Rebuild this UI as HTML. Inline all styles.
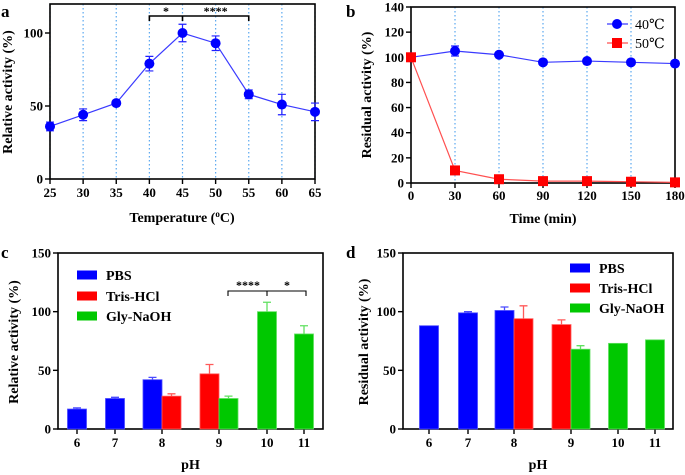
<!DOCTYPE html>
<html><head><meta charset="utf-8"><style>
html,body{margin:0;padding:0;background:#fff}
svg{display:block;font-family:"Liberation Serif","DejaVu Serif","Times New Roman",serif;font-weight:bold}
svg text{font-family:"Liberation Serif","DejaVu Serif","Times New Roman",serif}
svg text.sans{font-family:"Liberation Sans","DejaVu Sans",sans-serif;font-weight:normal}
</style></head><body>
<svg id="fig" width="685" height="475" viewBox="0 0 685 475" xmlns="http://www.w3.org/2000/svg"></svg>
<script>
// Panel a data
const tempCats=[25,30,35,40,45,50,55,60,65];
const tempVals=[36,44,52,79,100,93,58,51,46];
const tempErr=[3,4,1,5,6,5,3,7,6];
const tempYTicks=[0,50,100];
// Panel b data
const timeCats=[0,30,60,90,120,150,180];
const res40=[100,105,102,96,97,96,95];
const res40Err=[1,4,1,1,1,1,1];
const res50=[100,10,3,1.5,1.5,1,0.5];
const timeYTicks=[0,20,40,60,80,100,120,140];
// Panel c data
const phCats=[6,7,8,9,10,11];
const cPBS=[17,26,42,null,null,null];
const cPBSErr=[1,1,2,0,0,0];
const cTris=[null,null,28,47,null,null];
const cTrisErr=[0,0,2,8,0,0];
const cGly=[null,null,null,26,100,81];
const cGlyErr=[0,0,0,2,8,7];
// Panel d data
const dPBS=[88,99,101,null,null,null];
const dPBSErr=[0,1,3,0,0,0];
const dTris=[null,null,94,89,null,null];
const dTrisErr=[0,0,11,4,0,0];
const dGly=[null,null,null,68,73,76];
const dGlyErr=[0,0,0,3,0,0];
const barYTicks=[0,50,100,150];

const NS="http://www.w3.org/2000/svg";
const FONT='"Liberation Serif","DejaVu Serif",serif';
const svg=document.getElementById('fig');
function el(tag,attrs,parent,txt){const e=document.createElementNS(NS,tag);if(tag==='text'){e.setAttribute('font-family',FONT);e.setAttribute('font-weight','bold');}for(const k in attrs)e.setAttribute(k,attrs[k]);if(txt!==undefined)e.textContent=txt;(parent||svg).appendChild(e);return e;}
function grp(name){const g=el('g',{});return g;}
function lin(d0,d1,r0,r1){return v=>r0+(v-d0)*(r1-r0)/(d1-d0);}

function frame(g,x0,x1,y0,y1){el('rect',{x:x0,y:y0,width:x1-x0,height:y1-y0,fill:'none',stroke:'#000','stroke-width':1.6},g);}
function yAxis(g,ticks,ys,x0,name,title,tx,cy){
  const a=grp(name+'-y-axis');g.appendChild(a);
  ticks.forEach(t=>{el('line',{x1:x0-5,x2:x0,y1:ys(t),y2:ys(t),stroke:'#000','stroke-width':1.4},a);
    const tt=el('text',{x:x0-7,y:ys(t)+4.5,'text-anchor':'end','font-size':13},a,t);
    });
  const ti=el('text',{x:tx,y:cy,'text-anchor':'middle','font-size':14,transform:`rotate(-90 ${tx} ${cy})`},a,title);
  
}
function xAxis(g,ticks,xs,y0,name,title,tcx,ly,ty){
  const a=grp(name+'-x-axis');g.appendChild(a);
  ticks.forEach((t,i)=>{const x=xs(t,i);el('line',{x1:x,x2:x,y1:y0,y2:y0+5,stroke:'#000','stroke-width':1.4},a);
    const tt=el('text',{x:x,y:ly,'text-anchor':'middle','font-size':13},a,t);
    });
  const ti=el('text',{x:tcx,y:ty,'text-anchor':'middle','font-size':14},a,'');
  ti.innerHTML=title;
  
}
function letter(t,x,y){const e=el('text',{x:x,y:y,'font-size':17},svg,t);}

// ---------- Panel a ----------
(function(){
  const g=grp('panel-a-temperature-chart');
  const xs=lin(25,65,50,315), ys=lin(0,100,179,33);
  tempCats.forEach(c=>el('line',{x1:xs(c),x2:xs(c),y1:4,y2:179,stroke:'#5aa8f0','stroke-width':1.2,'stroke-dasharray':'1.5,2.5'},g));
  frame(g,50,315,4,179);
  yAxis(g,tempYTicks,ys,50,'panel-a','Relative activity (%)',12,92);
  xAxis(g,tempCats,c=>xs(c),179,'panel-a','Temperature (<tspan baseline-shift="super" font-size="9">o</tspan>C)',182,197,222);
  const pts=tempCats.map((c,i)=>xs(c)+','+ys(tempVals[i])).join(' ');
  const pl=el('polyline',{points:pts,fill:'none',stroke:'#3a3aff','stroke-width':1.2},g);
  
  tempCats.forEach((c,i)=>{const x=xs(c),y=ys(tempVals[i]),e=tempErr[i];
    el('path',{d:`M${x},${ys(tempVals[i]+e)}V${ys(tempVals[i]-e)}M${x-4},${ys(tempVals[i]+e)}H${x+4}M${x-4},${ys(tempVals[i]-e)}H${x+4}`,stroke:'#2020ff','stroke-width':1.2,fill:'none'},g);
    const p=el('circle',{cx:x,cy:y,r:5,fill:'#0000ff'},g);
    });
  const b=grp('significance-brackets-a');g.appendChild(b);
  el('path',{d:`M${xs(40)},21V16H${xs(45)}V21M${xs(45)},16H${xs(55)}V21`,stroke:'#000','stroke-width':1.6,fill:'none'},b);
  el('text',{x:(xs(40)+xs(45))/2,y:15,'text-anchor':'middle','font-size':12},b,'*');
  el('text',{x:(xs(45)+xs(55))/2,y:15,'text-anchor':'middle','font-size':12},b,'****');
  letter('a',1,17);
})();

// ---------- Panel b ----------
(function(){
  const g=grp('panel-b-thermostability-chart');
  const xs=lin(0,180,411,675), ys=lin(0,140,183,7);
  timeCats.slice(1,-1).forEach(c=>el('line',{x1:xs(c),x2:xs(c),y1:7,y2:183,stroke:'#5aa8f0','stroke-width':1.2,'stroke-dasharray':'1.5,2.5'},g));
  frame(g,411,675,7,183);
  yAxis(g,timeYTicks,ys,411,'panel-b','Residual activity (%)',371,95);
  xAxis(g,timeCats,c=>xs(c),183,'panel-b','Time (min)',543,200,223);
  const l50=el('polyline',{points:timeCats.map((c,i)=>xs(c)+','+ys(res50[i])).join(' '),fill:'none',stroke:'#ff5050','stroke-width':1.2},g);
  
  const l40=el('polyline',{points:timeCats.map((c,i)=>xs(c)+','+ys(res40[i])).join(' '),fill:'none',stroke:'#3a3aff','stroke-width':1.2},g);
  
  timeCats.forEach((c,i)=>{const x=xs(c),e=res40Err[i];
    el('path',{d:`M${x},${ys(res40[i]+e)}V${ys(res40[i]-e)}M${x-4},${ys(res40[i]+e)}H${x+4}M${x-4},${ys(res40[i]-e)}H${x+4}`,stroke:'#2020ff','stroke-width':1.2},g);
    const p=el('circle',{cx:x,cy:ys(res40[i]),r:5,fill:'#0000ff'},g);
    
    const s=el('rect',{x:x-5,y:ys(res50[i])-5,width:10,height:10,fill:'#ff0000'},g);
    });
  const lg=grp('legend-b');g.appendChild(lg);
  el('line',{x1:607,x2:628,y1:24,y2:24,stroke:'#3a3aff','stroke-width':1.2},lg);
  el('circle',{cx:617,cy:24,r:5,fill:'#0000ff'},lg);
  el('text',{x:635,y:29,'font-size':14,'font-family':'"Liberation Sans","DejaVu Sans",sans-serif','font-weight':'normal'},lg,'40℃');
  el('line',{x1:607,x2:628,y1:43,y2:43,stroke:'#ff5050','stroke-width':1.2},lg);
  el('rect',{x:612,y:38,width:10,height:10,fill:'#ff0000'},lg);
  el('text',{x:635,y:48,'font-size':14,'font-family':'"Liberation Sans","DejaVu Sans",sans-serif','font-weight':'normal'},lg,'50℃');
  letter('b',346,17);
})();

// ---------- Bar panels ----------
function barPanel(cfg){
  const g=grp(cfg.name);
  const ys=lin(0,150,429,253);
  frame(g,cfg.x0,cfg.x1,253,429);
  yAxis(g,barYTicks,ys,cfg.x0,cfg.name,cfg.ytitle,cfg.ytx,342);
  xAxis(g,phCats,(c,i)=>cfg.ticks[i],429,cfg.name,'pH',(cfg.x0+cfg.x1)/2,447,469);
  const series=[[cfg.pbs,cfg.pbsE,'#0000ff','#4a4aff','pbs'],[cfg.tris,cfg.trisE,'#ff0000','#ff5a5a','tris-hcl'],[cfg.gly,cfg.glyE,'#00c800','#60e060','gly-naoh']];
  const bw=19;
  phCats.forEach((c,i)=>{
    const present=series.filter(s=>s[0][i]!==null);
    const n=present.length;
    present.forEach((s,k)=>{const v=s[0][i],e=s[1][i];
      const x=cfg.ticks[i]-n*bw/2+k*bw;
      const r=el('rect',{x:x,y:ys(v),width:bw,height:429-ys(v),fill:s[2],stroke:s[3],'stroke-width':0.8},g);
      
      if(e>0){const cx=x+bw/2;el('path',{d:`M${cx},${ys(v)}V${ys(v+e)}M${cx-4},${ys(v+e)}H${cx+4}`,stroke:s[3],'stroke-width':1.3},g);}
    });
  });
  const lg=grp('legend-'+cfg.name);g.appendChild(lg);
  ['PBS','Tris-HCl','Gly-NaOH'].forEach((t,k)=>{
    el('rect',{x:cfg.lx,y:cfg.ly[k]-4.5,width:20,height:9,fill:series[k][2]},lg);
    el('text',{x:cfg.lx+29,y:cfg.ly[k]+5,'font-size':14},lg,t);
  });
  return g;
}
(function(){
  const g=barPanel({name:'panel-c-ph-optimum',x0:58,x1:323,ticks:[77,115,162,219,267,304],ytitle:'Relative activity (%)',ytx:18,
    pbs:cPBS,pbsE:cPBSErr,tris:cTris,trisE:cTrisErr,gly:cGly,glyE:cGlyErr,lx:77,ly:[275,296,316]});
  const b=grp('significance-brackets-c');g.appendChild(b);
  el('path',{d:'M228,296V291H306V296M267,291V296',stroke:'#000','stroke-width':1.1,fill:'none'},b);
  el('text',{x:248,y:289,'text-anchor':'middle','font-size':12},b,'****');
  el('text',{x:287,y:289,'text-anchor':'middle','font-size':12},b,'*');
  letter('c',1,258);
})();
(function(){
  barPanel({name:'panel-d-ph-stability',x0:403,x1:673,ticks:[429,468,514,571,618,655],ytitle:'Residual activity (%)',ytx:368,
    pbs:dPBS,pbsE:dPBSErr,tris:dTris,trisE:dTrisErr,gly:dGly,glyE:dGlyErr,lx:570,ly:[268,288,308]});
  letter('d',346,258);
})();
</script>
</body></html>
